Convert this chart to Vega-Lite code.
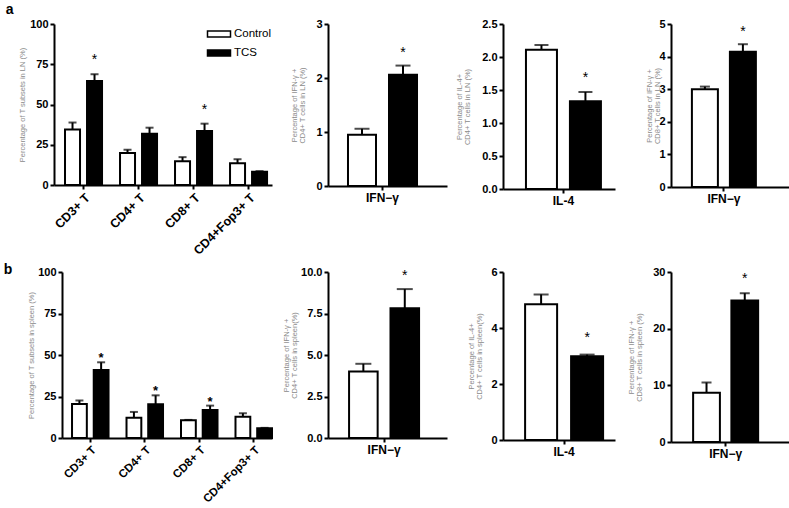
{
  "$schema": "https://vega.github.io/schema/vega-lite/v6.json",
  "padding": {"left": 3, "top": 3, "right": 0, "bottom": 0},
  "background": "white",
  "config": {
    "view": {"stroke": null},
    "font": "Liberation Sans",
    "axis": {"domainColor": "black", "domainWidth": 2, "tickColor": "black", "tickWidth": 2, "tickSize": 4,
      "labelColor": "black", "labelFont": "Liberation Sans", "labelFontWeight": "bold", "labelFontSize": 11, "labelPadding": 2,
      "titleFont": "Liberation Sans", "titleFontWeight": "normal", "titleColor": "#8a8a8a", "titleFontSize": 7.5, "titleLineHeight": 8.5, "grid": false},
    "axisX": {"labelFontSize": 12},
    "text": {"baseline": "alphabetic", "font": "Liberation Sans", "fontSize": 14, "color": "black"},
    "title": {"font": "Liberation Sans", "fontSize": 14, "fontWeight": "bold", "color": "black", "anchor": "start", "frame": "bounds"}
  },
  "datasets": {
    "a1": [
      {"cat": "CD3+ T", "group": "Control", "value": 34.4, "err": 38.8, "sig": ""},
      {"cat": "CD3+ T", "group": "TCS", "value": 64.6, "err": 68.8, "sig": "*"},
      {"cat": "CD4+ T", "group": "Control", "value": 19.8, "err": 21.9, "sig": ""},
      {"cat": "CD4+ T", "group": "TCS", "value": 31.9, "err": 35.6, "sig": ""},
      {"cat": "CD8+ T", "group": "Control", "value": 14.8, "err": 17.3, "sig": ""},
      {"cat": "CD8+ T", "group": "TCS", "value": 33.5, "err": 38.1, "sig": "*"},
      {"cat": "CD4+Fop3+ T", "group": "Control", "value": 13.5, "err": 16.0, "sig": ""},
      {"cat": "CD4+Fop3+ T", "group": "TCS", "value": 8.3, "err": 8.6, "sig": ""}
    ],
    "a2": [
      {"cat": "IFN−γ", "group": "Control", "value": 0.95, "err": 1.06, "sig": ""},
      {"cat": "IFN−γ", "group": "TCS", "value": 2.06, "err": 2.23, "sig": "*"}
    ],
    "a3": [
      {"cat": "IL-4", "group": "Control", "value": 2.11, "err": 2.18, "sig": ""},
      {"cat": "IL-4", "group": "TCS", "value": 1.33, "err": 1.47, "sig": "*"}
    ],
    "a4": [
      {"cat": "IFN−γ", "group": "Control", "value": 3.0, "err": 3.08, "sig": ""},
      {"cat": "IFN−γ", "group": "TCS", "value": 4.15, "err": 4.38, "sig": "*"}
    ],
    "b1": [
      {"cat": "CD3+ T", "group": "Control", "value": 20.5, "err": 22.6, "sig": ""},
      {"cat": "CD3+ T", "group": "TCS", "value": 41.0, "err": 45.6, "sig": "*"},
      {"cat": "CD4+ T", "group": "Control", "value": 12.2, "err": 15.7, "sig": ""},
      {"cat": "CD4+ T", "group": "TCS", "value": 20.3, "err": 25.7, "sig": "*"},
      {"cat": "CD8+ T", "group": "Control", "value": 10.7, "err": 10.9, "sig": ""},
      {"cat": "CD8+ T", "group": "TCS", "value": 16.9, "err": 19.5, "sig": "*"},
      {"cat": "CD4+Fop3+ T", "group": "Control", "value": 12.8, "err": 14.9, "sig": ""},
      {"cat": "CD4+Fop3+ T", "group": "TCS", "value": 5.9, "err": 6.1, "sig": ""}
    ],
    "b2": [
      {"cat": "IFN−γ", "group": "Control", "value": 4.0, "err": 4.47, "sig": ""},
      {"cat": "IFN−γ", "group": "TCS", "value": 7.81, "err": 8.97, "sig": "*"}
    ],
    "b3": [
      {"cat": "IL-4", "group": "Control", "value": 4.85, "err": 5.2, "sig": ""},
      {"cat": "IL-4", "group": "TCS", "value": 2.99, "err": 3.05, "sig": "*"}
    ],
    "b4": [
      {"cat": "IFN−γ", "group": "Control", "value": 8.67, "err": 10.5, "sig": ""},
      {"cat": "IFN−γ", "group": "TCS", "value": 24.98, "err": 26.25, "sig": "*"}
    ],
    "blank": [{"k": 0}]
  },
  "resolve": {"scale": {"x": "independent", "y": "independent", "xOffset": "independent", "fill": "independent"}},
  "bounds": "full",
  "spacing": 6,
  "vconcat": [
    {
      "title": {"text": "a", "dx": -13, "offset": 1},
      "bounds": "flush",
      "spacing": 56,
      "resolve": {"scale": {"x": "independent", "y": "independent", "xOffset": "independent", "fill": "independent"}},
      "hconcat": [
        {
          "width": 218, "height": 161,
          "data": {"name": "a1"},
          "encoding": {
            "x": {"field": "cat", "type": "nominal", "title": null, "sort": ["CD3+ T", "CD4+ T", "CD8+ T", "CD4+Fop3+ T"], "scale": {"paddingInner": 0.327, "paddingOuter": 0.145, "align": 0.69}, "axis": {"labelAngle": -45, "labelFontSize": 12.5}},
            "xOffset": {"field": "group", "type": "nominal", "sort": ["Control", "TCS"], "scale": {"paddingInner": 0.318, "paddingOuter": 0}}
          },
          "layer": [
            {"mark": {"type": "bar", "stroke": "black", "strokeWidth": 2},
             "encoding": {
               "y": {"field": "value", "type": "quantitative", "scale": {"domain": [0, 100]}, "axis": {"values": [0, 25, 50, 75, 100], "title": "Percentage of T subsets in LN (%)", "titlePadding": 3}},
               "fill": {"field": "group", "type": "nominal", "scale": {"domain": ["Control", "TCS"], "range": ["white", "black"]},
                 "legend": {"orient": "none", "legendX": 159, "legendY": 4, "title": null, "symbolType": "M-2.3,-0.6H2.3V0.6H-2.3Z", "symbolSize": 100, "symbolStrokeColor": "black", "symbolStrokeWidth": 1.5, "labelFont": "Liberation Sans", "labelFontSize": 11.5, "labelFontWeight": "normal", "labelColor": "black", "labelOffset": 9, "rowPadding": 7}}
             }},
            {"mark": {"type": "rule", "color": "black", "strokeWidth": 2},
             "encoding": {"y": {"field": "value", "type": "quantitative", "scale": {"domain": [0, 100]}, "axis": {"values": [0, 25, 50, 75, 100], "title": "Percentage of T subsets in LN (%)", "titlePadding": 3}}, "y2": {"field": "err"}}},
            {"mark": {"type": "tick", "color": "black", "thickness": 2, "size": 8},
             "encoding": {"y": {"field": "err", "type": "quantitative", "scale": {"domain": [0, 100]}, "axis": {"values": [0, 25, 50, 75, 100], "title": "Percentage of T subsets in LN (%)", "titlePadding": 3}}}},
            {"mark": {"type": "text", "dy": -10},
             "encoding": {"y": {"field": "err", "type": "quantitative", "scale": {"domain": [0, 100]}, "axis": {"values": [0, 25, 50, 75, 100], "title": "Percentage of T subsets in LN (%)", "titlePadding": 3}}, "text": {"field": "sig"}}}
          ]
        },
        {
          "width": 119, "height": 162,
          "data": {"name": "a2"},
          "encoding": {
            "x": {"field": "cat", "type": "nominal", "title": null, "scale": {"paddingInner": 0, "paddingOuter": 0.362, "align": 0.4}, "axis": {"labelAngle": 0}},
            "xOffset": {"field": "group", "type": "nominal", "sort": ["Control", "TCS"], "scale": {"paddingInner": 0.317, "paddingOuter": 0}}
          },
          "layer": [
            {"mark": {"type": "bar", "stroke": "black", "strokeWidth": 2},
             "encoding": {
               "y": {"field": "value", "type": "quantitative", "scale": {"domain": [0, 3]}, "axis": {"values": [0, 1, 2, 3], "title": ["Percentage of IFN-γ +", "CD4+ T cells in LN (%)"], "titlePadding": 9}},
               "fill": {"field": "group", "type": "nominal", "scale": {"domain": ["Control", "TCS"], "range": ["white", "black"]}, "legend": null}
             }},
            {"mark": {"type": "rule", "color": "black", "strokeWidth": 2},
             "encoding": {"y": {"field": "value", "type": "quantitative", "scale": {"domain": [0, 3]}, "axis": {"values": [0, 1, 2, 3], "title": ["Percentage of IFN-γ +", "CD4+ T cells in LN (%)"], "titlePadding": 9}}, "y2": {"field": "err"}}},
            {"mark": {"type": "tick", "color": "black", "thickness": 2, "size": 15},
             "encoding": {"y": {"field": "err", "type": "quantitative", "scale": {"domain": [0, 3]}, "axis": {"values": [0, 1, 2, 3], "title": ["Percentage of IFN-γ +", "CD4+ T cells in LN (%)"], "titlePadding": 9}}}},
            {"mark": {"type": "text", "dy": -9},
             "encoding": {"y": {"field": "err", "type": "quantitative", "scale": {"domain": [0, 3]}, "axis": {"values": [0, 1, 2, 3], "title": ["Percentage of IFN-γ +", "CD4+ T cells in LN (%)"], "titlePadding": 9}}, "text": {"field": "sig"}}}
          ]
        },
        {
          "width": 112, "height": 165,
          "data": {"name": "a3"},
          "encoding": {
            "x": {"field": "cat", "type": "nominal", "title": null, "scale": {"paddingInner": 0, "paddingOuter": 0.247, "align": 0.62}, "axis": {"labelAngle": 0}},
            "xOffset": {"field": "group", "type": "nominal", "sort": ["Control", "TCS"], "scale": {"paddingInner": 0.295, "paddingOuter": 0}}
          },
          "layer": [
            {"mark": {"type": "bar", "stroke": "black", "strokeWidth": 2},
             "encoding": {
               "y": {"field": "value", "type": "quantitative", "scale": {"domain": [0, 2.5]}, "axis": {"values": [0, 0.5, 1, 1.5, 2, 2.5], "format": ".1f", "title": ["Percentage of IL-4+", "CD4+ T cells in LN (%)"], "titlePadding": 10}},
               "fill": {"field": "group", "type": "nominal", "scale": {"domain": ["Control", "TCS"], "range": ["white", "black"]}, "legend": null}
             }},
            {"mark": {"type": "rule", "color": "black", "strokeWidth": 2},
             "encoding": {"y": {"field": "value", "type": "quantitative", "scale": {"domain": [0, 2.5]}, "axis": {"values": [0, 0.5, 1, 1.5, 2, 2.5], "format": ".1f", "title": ["Percentage of IL-4+", "CD4+ T cells in LN (%)"], "titlePadding": 10}}, "y2": {"field": "err"}}},
            {"mark": {"type": "tick", "color": "black", "thickness": 2, "size": 14},
             "encoding": {"y": {"field": "err", "type": "quantitative", "scale": {"domain": [0, 2.5]}, "axis": {"values": [0, 0.5, 1, 1.5, 2, 2.5], "format": ".1f", "title": ["Percentage of IL-4+", "CD4+ T cells in LN (%)"], "titlePadding": 10}}}},
            {"mark": {"type": "text", "dy": -10},
             "encoding": {"y": {"field": "err", "type": "quantitative", "scale": {"domain": [0, 2.5]}, "axis": {"values": [0, 0.5, 1, 1.5, 2, 2.5], "format": ".1f", "title": ["Percentage of IL-4+", "CD4+ T cells in LN (%)"], "titlePadding": 10}}, "text": {"field": "sig"}}}
          ]
        },
        {
          "width": 119, "height": 163,
          "data": {"name": "a4"},
          "encoding": {
            "x": {"field": "cat", "type": "nominal", "title": null, "scale": {"paddingInner": 0, "paddingOuter": 0.43, "align": 0.38}, "axis": {"labelAngle": 0}},
            "xOffset": {"field": "group", "type": "nominal", "sort": ["Control", "TCS"], "scale": {"paddingInner": 0.316, "paddingOuter": 0}}
          },
          "layer": [
            {"mark": {"type": "bar", "stroke": "black", "strokeWidth": 2},
             "encoding": {
               "y": {"field": "value", "type": "quantitative", "scale": {"domain": [0, 5]}, "axis": {"values": [0, 1, 2, 3, 4, 5], "title": ["Percentage of IFN-γ +", "CD8+ T cells in LN (%)"], "titlePadding": -3}},
               "fill": {"field": "group", "type": "nominal", "scale": {"domain": ["Control", "TCS"], "range": ["white", "black"]}, "legend": null}
             }},
            {"mark": {"type": "rule", "color": "black", "strokeWidth": 2},
             "encoding": {"y": {"field": "value", "type": "quantitative", "scale": {"domain": [0, 5]}, "axis": {"values": [0, 1, 2, 3, 4, 5], "title": ["Percentage of IFN-γ +", "CD8+ T cells in LN (%)"], "titlePadding": -3}}, "y2": {"field": "err"}}},
            {"mark": {"type": "tick", "color": "black", "thickness": 2, "size": 10},
             "encoding": {"y": {"field": "err", "type": "quantitative", "scale": {"domain": [0, 5]}, "axis": {"values": [0, 1, 2, 3, 4, 5], "title": ["Percentage of IFN-γ +", "CD8+ T cells in LN (%)"], "titlePadding": -3}}}},
            {"mark": {"type": "text", "dy": -8},
             "encoding": {"y": {"field": "err", "type": "quantitative", "scale": {"domain": [0, 5]}, "axis": {"values": [0, 1, 2, 3, 4, 5], "title": ["Percentage of IFN-γ +", "CD8+ T cells in LN (%)"], "titlePadding": -3}}, "text": {"field": "sig"}}}
          ]
        }
      ]
    },
    {
      "title": {"text": "b", "dx": -24, "offset": -11},
      "bounds": "flush",
      "spacing": 0,
      "resolve": {"scale": {"x": "independent", "y": "independent", "xOffset": "independent", "fill": "independent"}},
      "hconcat": [
        {
          "width": 8, "height": 10,
          "data": {"name": "blank"},
          "mark": {"type": "point", "opacity": 0},
          "encoding": {}
        },
        {
          "bounds": "flush",
          "spacing": 56,
          "resolve": {"scale": {"x": "independent", "y": "independent", "xOffset": "independent", "fill": "independent"}},
          "hconcat": [
            {
              "width": 210, "height": 166,
              "data": {"name": "b1"},
              "encoding": {
                "x": {"field": "cat", "type": "nominal", "title": null, "sort": ["CD3+ T", "CD4+ T", "CD8+ T", "CD4+Fop3+ T"], "scale": {"paddingInner": 0.33, "paddingOuter": 0.092, "align": 1}, "axis": {"labelAngle": -45, "labelFontSize": 11.5}},
                "xOffset": {"field": "group", "type": "nominal", "sort": ["Control", "TCS"], "scale": {"paddingInner": 0.318, "paddingOuter": 0}}
              },
              "layer": [
                {"mark": {"type": "bar", "stroke": "black", "strokeWidth": 2},
                 "encoding": {
                   "y": {"field": "value", "type": "quantitative", "scale": {"domain": [0, 100]}, "axis": {"values": [0, 25, 50, 75, 100], "title": "Percentage of T subsets in spleen (%)", "titlePadding": 2}},
                   "fill": {"field": "group", "type": "nominal", "scale": {"domain": ["Control", "TCS"], "range": ["white", "black"]}, "legend": null}
                 }},
                {"mark": {"type": "rule", "color": "black", "strokeWidth": 2},
                 "encoding": {"y": {"field": "value", "type": "quantitative", "scale": {"domain": [0, 100]}, "axis": {"values": [0, 25, 50, 75, 100], "title": "Percentage of T subsets in spleen (%)", "titlePadding": 2}}, "y2": {"field": "err"}}},
                {"mark": {"type": "tick", "color": "black", "thickness": 2, "size": 8},
                 "encoding": {"y": {"field": "err", "type": "quantitative", "scale": {"domain": [0, 100]}, "axis": {"values": [0, 25, 50, 75, 100], "title": "Percentage of T subsets in spleen (%)", "titlePadding": 2}}}},
                {"mark": {"type": "text", "fontSize": 13, "fontWeight": "bold", "dy": 0},
                 "encoding": {"y": {"field": "err", "type": "quantitative", "scale": {"domain": [0, 100]}, "axis": {"values": [0, 25, 50, 75, 100], "title": "Percentage of T subsets in spleen (%)", "titlePadding": 2}}, "text": {"field": "sig"}}}
              ]
            },
            {
              "width": 119, "height": 166,
              "data": {"name": "b2"},
              "encoding": {
                "x": {"field": "cat", "type": "nominal", "title": null, "scale": {"paddingInner": 0, "paddingOuter": 0.35, "align": 0.43}, "axis": {"labelAngle": 0}},
                "xOffset": {"field": "group", "type": "nominal", "sort": ["Control", "TCS"], "scale": {"paddingInner": 0.31, "paddingOuter": 0}}
              },
              "layer": [
                {"mark": {"type": "bar", "stroke": "black", "strokeWidth": 2},
                 "encoding": {
                   "y": {"field": "value", "type": "quantitative", "scale": {"domain": [0, 10]}, "axis": {"values": [0, 2.5, 5, 7.5, 10], "format": ".1f", "title": ["Percentage of IFN-γ +", "CD4+ T cells in spleen(%)"], "titlePadding": 2}},
                   "fill": {"field": "group", "type": "nominal", "scale": {"domain": ["Control", "TCS"], "range": ["white", "black"]}, "legend": null}
                 }},
                {"mark": {"type": "rule", "color": "black", "strokeWidth": 2},
                 "encoding": {"y": {"field": "value", "type": "quantitative", "scale": {"domain": [0, 10]}, "axis": {"values": [0, 2.5, 5, 7.5, 10], "format": ".1f", "title": ["Percentage of IFN-γ +", "CD4+ T cells in spleen(%)"], "titlePadding": 2}}, "y2": {"field": "err"}}},
                {"mark": {"type": "tick", "color": "black", "thickness": 2, "size": 16},
                 "encoding": {"y": {"field": "err", "type": "quantitative", "scale": {"domain": [0, 10]}, "axis": {"values": [0, 2.5, 5, 7.5, 10], "format": ".1f", "title": ["Percentage of IFN-γ +", "CD4+ T cells in spleen(%)"], "titlePadding": 2}}}},
                {"mark": {"type": "text", "dy": -9},
                 "encoding": {"y": {"field": "err", "type": "quantitative", "scale": {"domain": [0, 10]}, "axis": {"values": [0, 2.5, 5, 7.5, 10], "format": ".1f", "title": ["Percentage of IFN-γ +", "CD4+ T cells in spleen(%)"], "titlePadding": 2}}, "text": {"field": "sig"}}}
              ]
            },
            {
              "width": 112, "height": 168,
              "data": {"name": "b3"},
              "encoding": {
                "x": {"field": "cat", "type": "nominal", "title": null, "scale": {"paddingInner": 0, "paddingOuter": 0.218, "align": 0.65}, "axis": {"labelAngle": 0}},
                "xOffset": {"field": "group", "type": "nominal", "sort": ["Control", "TCS"], "scale": {"paddingInner": 0.304, "paddingOuter": 0}}
              },
              "layer": [
                {"mark": {"type": "bar", "stroke": "black", "strokeWidth": 2},
                 "encoding": {
                   "y": {"field": "value", "type": "quantitative", "scale": {"domain": [0, 6]}, "axis": {"values": [0, 2, 4, 6], "title": ["Percentage of IL-4+", "CD4+ T cells in spleen(%)"], "titlePadding": 7}},
                   "fill": {"field": "group", "type": "nominal", "scale": {"domain": ["Control", "TCS"], "range": ["white", "black"]}, "legend": null}
                 }},
                {"mark": {"type": "rule", "color": "black", "strokeWidth": 2},
                 "encoding": {"y": {"field": "value", "type": "quantitative", "scale": {"domain": [0, 6]}, "axis": {"values": [0, 2, 4, 6], "title": ["Percentage of IL-4+", "CD4+ T cells in spleen(%)"], "titlePadding": 7}}, "y2": {"field": "err"}}},
                {"mark": {"type": "tick", "color": "black", "thickness": 2, "size": 15},
                 "encoding": {"y": {"field": "err", "type": "quantitative", "scale": {"domain": [0, 6]}, "axis": {"values": [0, 2, 4, 6], "title": ["Percentage of IL-4+", "CD4+ T cells in spleen(%)"], "titlePadding": 7}}}},
                {"mark": {"type": "text", "dy": -13},
                 "encoding": {"y": {"field": "err", "type": "quantitative", "scale": {"domain": [0, 6]}, "axis": {"values": [0, 2, 4, 6], "title": ["Percentage of IL-4+", "CD4+ T cells in spleen(%)"], "titlePadding": 7}}, "text": {"field": "sig"}}}
              ]
            },
            {
              "width": 119, "height": 170,
              "data": {"name": "b4"},
              "encoding": {
                "x": {"field": "cat", "type": "nominal", "title": null, "scale": {"paddingInner": 0, "paddingOuter": 0.415, "align": 0.41}, "axis": {"labelAngle": 0}},
                "xOffset": {"field": "group", "type": "nominal", "sort": ["Control", "TCS"], "scale": {"paddingInner": 0.3, "paddingOuter": 0}}
              },
              "layer": [
                {"mark": {"type": "bar", "stroke": "black", "strokeWidth": 2},
                 "encoding": {
                   "y": {"field": "value", "type": "quantitative", "scale": {"domain": [0, 30]}, "axis": {"values": [0, 10, 20, 30], "title": ["Percentage of IFN-γ +", "CD8+ T cells in spleen (%)"], "titlePadding": 9}},
                   "fill": {"field": "group", "type": "nominal", "scale": {"domain": ["Control", "TCS"], "range": ["white", "black"]}, "legend": null}
                 }},
                {"mark": {"type": "rule", "color": "black", "strokeWidth": 2},
                 "encoding": {"y": {"field": "value", "type": "quantitative", "scale": {"domain": [0, 30]}, "axis": {"values": [0, 10, 20, 30], "title": ["Percentage of IFN-γ +", "CD8+ T cells in spleen (%)"], "titlePadding": 9}}, "y2": {"field": "err"}}},
                {"mark": {"type": "tick", "color": "black", "thickness": 2, "size": 10},
                 "encoding": {"y": {"field": "err", "type": "quantitative", "scale": {"domain": [0, 30]}, "axis": {"values": [0, 10, 20, 30], "title": ["Percentage of IFN-γ +", "CD8+ T cells in spleen (%)"], "titlePadding": 9}}}},
                {"mark": {"type": "text", "dy": -10},
                 "encoding": {"y": {"field": "err", "type": "quantitative", "scale": {"domain": [0, 30]}, "axis": {"values": [0, 10, 20, 30], "title": ["Percentage of IFN-γ +", "CD8+ T cells in spleen (%)"], "titlePadding": 9}}, "text": {"field": "sig"}}}
              ]
            }
          ]
        }
      ]
    }
  ]
}
